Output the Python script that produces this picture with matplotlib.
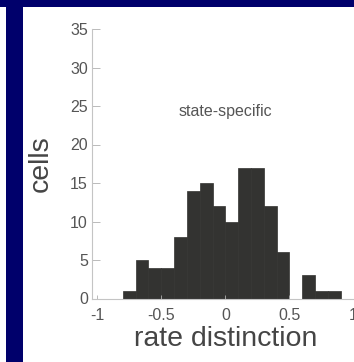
import numpy as np
import matplotlib.pyplot as plt
from matplotlib.patches import Rectangle

# histogram of rate distinction, bins of 0.1
bin_edges = [-0.8, -0.7, -0.6, -0.5, -0.4, -0.3, -0.2, -0.1, 0.0,
             0.1, 0.2, 0.3, 0.4, 0.5, 0.6, 0.7, 0.8, 0.9]
cell_counts = [1, 5, 4, 4, 8, 14, 15, 12, 10, 17, 17, 12, 6, 0, 3, 1, 1]
x_ticks = [-1, -0.5, 0, 0.5, 1]
x_tick_labels = ['-1', '-0.5', '0', '0.5', '1']
y_ticks = [0, 5, 10, 15, 20, 25, 30, 35]

plt.rcParams['font.family'] = ['Liberation Sans', 'DejaVu Sans']

fig = plt.figure(figsize=(3.54, 3.62), dpi=100)
fig.patch.set_facecolor('white')

# navy slide frame (top band and left bar)
navy = '#00006b'
fig.patches.append(Rectangle((0, 1 - 7 / 362), 1, 7 / 362, transform=fig.transFigure,
                             facecolor=navy, edgecolor='none', zorder=0))
fig.patches.append(Rectangle((6 / 354, 0), 17 / 354, 1, transform=fig.transFigure,
                             facecolor=navy, edgecolor='none', zorder=0))

ax = fig.add_axes([92 / 354, 63.5 / 362, 268 / 354, 269.5 / 362])
ax.set_facecolor('none')

edges = np.array(bin_edges)
ax.bar(edges[:-1], cell_counts, width=np.diff(edges), align='edge',
       color='#333331', edgecolor='#333331', linewidth=0.5)

ax.set_xlim(-1.04, 1.05)
ax.set_ylim(0, 35)
ax.set_xticks(x_ticks)
ax.set_xticklabels(x_tick_labels)
ax.set_yticks(y_ticks)

for s in ['top', 'right']:
    ax.spines[s].set_visible(False)
for s in ['left', 'bottom']:
    ax.spines[s].set_color('#c4c4c4')
    ax.spines[s].set_linewidth(0.8)

ax.tick_params(axis='both', direction='in', length=6, width=0.6, color='#b0b0b0',
               labelsize=11.5, labelcolor='#555555')
ax.tick_params(axis='y', pad=3)
ax.tick_params(axis='x', pad=7, length=3)

ax.set_xlabel('rate distinction', fontsize=20.5, color='#454545', labelpad=2)
ax.set_ylabel('cells', fontsize=20.5, color='#454545', labelpad=12)

ax.text(0.0, 24.3, 'state-specific', fontsize=11.5, color='#555555',
        ha='center', va='center')

fig.savefig('out.png', dpi=100, facecolor='white')
